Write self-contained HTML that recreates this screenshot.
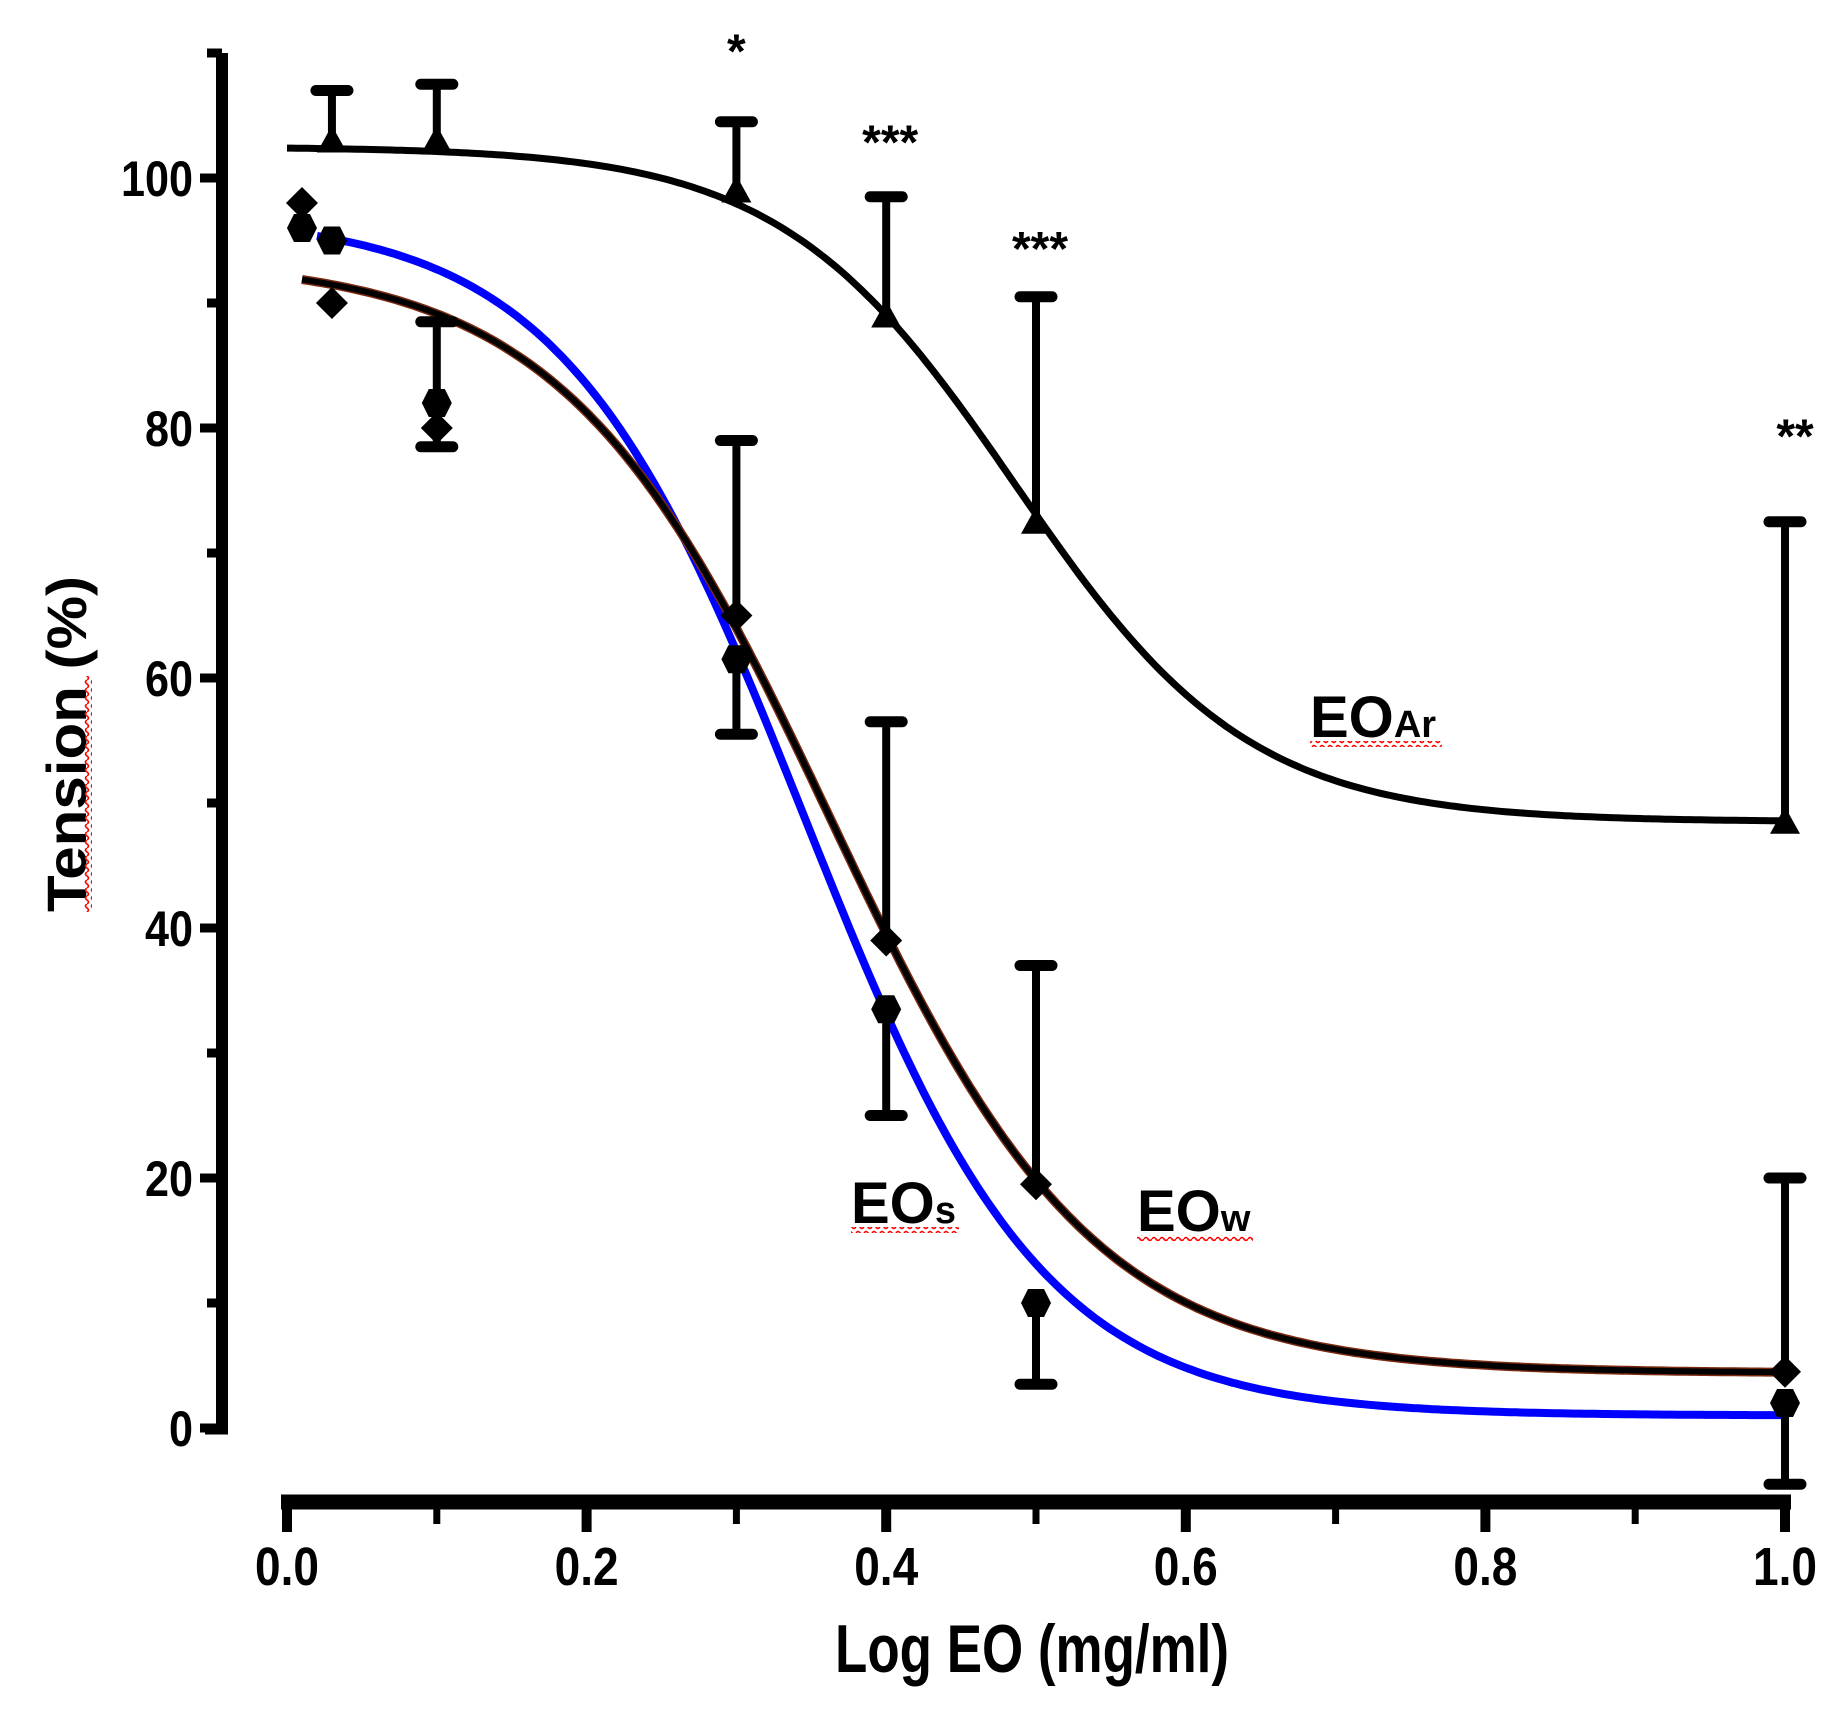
<!DOCTYPE html>
<html><head><meta charset="utf-8"><style>
html,body{margin:0;padding:0;background:#fff}
svg{display:block}
text{font-family:"Liberation Sans",sans-serif;font-weight:bold;fill:#000}
</style></head><body>
<svg id="chart" width="1846" height="1718" viewBox="0 0 1846 1718" xmlns="http://www.w3.org/2000/svg">
<defs>
<pattern id="wavy" width="8" height="6" patternUnits="userSpaceOnUse"><path d="M0 3 Q2 0 4 3 T8 3" stroke="#f00" stroke-width="1.6" fill="none"/></pattern>
<pattern id="wavyV" width="6" height="8" patternUnits="userSpaceOnUse"><path d="M3 0 Q0 2 3 4 T3 8" stroke="#f00" stroke-width="1.6" fill="none"/></pattern>
</defs>
<g id="axes"></g>
<g id="curves"></g>
<g id="marks"></g>
<g id="labels"></g>
</svg>
<script>
// ---- data ----
const xTicks = [0.0, 0.2, 0.4, 0.6, 0.8, 1.0];
const xTickLabels = ["0.0","0.2","0.4","0.6","0.8","1.0"];
const yTicks = [0, 20, 40, 60, 80, 100];
const yTickLabels = ["0","20","40","60","80","100"];
const doses = [0.01, 0.03, 0.1, 0.3, 0.4, 0.5, 1.0];
const arDoses = [0.03, 0.1, 0.3, 0.4, 0.5, 1.0];
const arMeans = [103, 103, 99, 89, 72.5, 48.5];
const arUpper = [107, 107.5, 104.5, 98.5, 90.5, 72.5];
const sMeans = [96, 95, 82, 61.5, 33.5, 10, 2];
const sLower = [96, 95, 78.5, 55.5, 25, 3.5, -4.5];
const wMeans = [98, 90, 80, 65, 39, 19.5, 4.5];
const wUpper = [98, 90, 88.5, 79, 56.5, 37, 20];
// fit parameters: [top, bottom, logEC50, hill]
const arFit = [102.5, 48.5, 0.486, 5.56];
const wFit = [93.5, 4.4, 0.362, 4.92];
const sFit = [97, 1.0, 0.345, 5.42];
const sigText = ["*", "***", "***", "**"];
const sigDoses = [0.3, 0.4, 0.5, 1.0];
const sigValues = [110.3, 103, 94.5, 79.5];

// ---- scales ----
const X = v => 287 + v * 1498;
const Y = v => 1428 - v * 12.5;
const NS = "http://www.w3.org/2000/svg";
function mk(tag, attrs, parent){const e=document.createElementNS(NS,tag);for(const k in attrs)e.setAttribute(k,attrs[k]);parent.appendChild(e);return e;}
const axes=document.getElementById('axes'), curves=document.getElementById('curves'), marks=document.getElementById('marks'), labels=document.getElementById('labels');

// y axis
let e=mk('line',{x1:222,y1:Y(110),x2:222,y2:1430,stroke:'#000','stroke-width':12},axes);


for(let v=0; v<=110; v+=10){
  const t=mk('line',{x1:(v%20===0?200:207),y1:Y(v),x2:222,y2:Y(v),stroke:'#000','stroke-width':9},axes);
  
  
}
mk('line',{x1:205,y1:1430,x2:228,y2:1430,stroke:'#000','stroke-width':9},axes);
yTicks.forEach((v,i)=>{
  const t=mk('text',{x:193,y:Y(v)+18,'text-anchor':'end','font-size':50},axes);
  t.textContent=yTickLabels[i];
  t.setAttribute('textLength', yTickLabels[i].length*24);
  t.setAttribute('lengthAdjust','spacingAndGlyphs');
  
  
});
// x axis
e=mk('line',{x1:X(0)-6,y1:1502,x2:X(1)+6,y2:1502,stroke:'#000','stroke-width':15},axes);


for(let i=0;i<=10;i++){
  const v=i/10;
  const t=mk('line',{x1:X(v),y1:1502,x2:X(v),y2:(i%2===0?1532:1524),stroke:'#000','stroke-width':(i%2===0?10:7)},axes);
  
  
}
xTicks.forEach((v,i)=>{
  const t=mk('text',{x:X(v),y:1585,'text-anchor':'middle','font-size':54,textLength:64,lengthAdjust:'spacingAndGlyphs'},axes);
  t.textContent=xTickLabels[i];
  
  
});
e=mk('text',{x:835,y:1672,'font-size':68,textLength:394,lengthAdjust:'spacingAndGlyphs'},axes);
e.textContent='Log EO (mg/ml)';


e=mk('text',{x:0,y:0,'font-size':56,textLength:336,lengthAdjust:'spacingAndGlyphs',transform:'translate(86,912) rotate(-90)'},axes);
e.textContent='Tension (%)';


e=mk('rect',{x:84,y:676,width:8,height:236,fill:'url(#wavyV)'},axes);



// curves
function fit(p,x){return p[1]+(p[0]-p[1])/(1+Math.pow(10,(x-p[2])*p[3]));}
function curvePath(p,x0,x1){let d='';for(let i=0;i<=300;i++){const x=x0+(x1-x0)*i/300;d+=(i?'L':'M')+X(x).toFixed(1)+' '+Y(fit(p,x)).toFixed(1);}return d;}
e=mk('path',{d:curvePath(sFit,0.02,1.0),stroke:'#0000ff','stroke-width':8,fill:'none'},curves);


e=mk('path',{d:curvePath(wFit,0.01,1.0),stroke:'#7a2a10','stroke-width':9,fill:'none'},curves);


e=mk('path',{d:curvePath(wFit,0.01,1.0),stroke:'#000','stroke-width':6,fill:'none'},curves);


e=mk('path',{d:curvePath(arFit,0.0,1.0),stroke:'#000','stroke-width':7,fill:'none'},curves);



// error bars + markers
function errBar(x,v1,v2,name){
  const g=mk('g',{},marks);
  
  
  mk('line',{x1:X(x),y1:Y(v1),x2:X(x),y2:Y(v2),stroke:'#000','stroke-width':8},g);
  mk('line',{x1:X(x)-16,y1:Y(v2),x2:X(x)+16,y2:Y(v2),stroke:'#000','stroke-width':11,'stroke-linecap':'round'},g);
}
function marker(type,x,v,name){
  const cx=X(x), cy=Y(v); let pts;
  if(type==='tri') pts=[[0,-15],[15,12],[-15,12]];
  else if(type==='dia') pts=[[0,-16],[16,0],[0,16],[-16,0]];
  else pts=[[-8,-14],[8,-14],[15,0],[8,14],[-8,14],[-15,0]];
  const p=mk('polygon',{points:pts.map(q=>(cx+q[0])+','+(cy+q[1])).join(' '),fill:'#000'},marks);
  
  
}
arDoses.forEach((x,i)=>{errBar(x,arMeans[i],arUpper[i],'error-bar-eoar');marker('tri',x,arMeans[i],'point-eoar');});
doses.forEach((x,i)=>{if(sLower[i]!==sMeans[i])errBar(x,sMeans[i],sLower[i],'error-bar-eos');marker('hex',x,sMeans[i],'point-eos');});
doses.forEach((x,i)=>{if(wUpper[i]!==wMeans[i])errBar(x,wMeans[i],wUpper[i],'error-bar-eow');marker('dia',x,wMeans[i],'point-eow');});

// significance stars
sigDoses.forEach((x,i)=>{
  const t=mk('text',{x:X(x)+(i===3?10:(i===0?0:4)),y:Y(sigValues[i])+18,'text-anchor':'middle','font-size':48},labels);
  t.textContent=sigText[i];
  
  
});
// series labels
function seriesLabel(x,y,main,sub,subLen,name){
  const t=mk('text',{x:x,y:y,'font-size':58},labels);
  
  
  const a=mk('tspan',{},t);a.textContent=main;
  const b=mk('tspan',{'font-size':38},t);b.textContent=sub;
  const u=mk('rect',{x:x,y:y+4,width:88+subLen,height:6,fill:'url(#wavy)'},labels);
  
  
}
seriesLabel(1310,737,'EO','Ar',44,'label-eoar');
seriesLabel(851,1223,'EO','s',20,'label-eos');
seriesLabel(1137,1231,'EO','w',28,'label-eow');
</script>
</body></html>
